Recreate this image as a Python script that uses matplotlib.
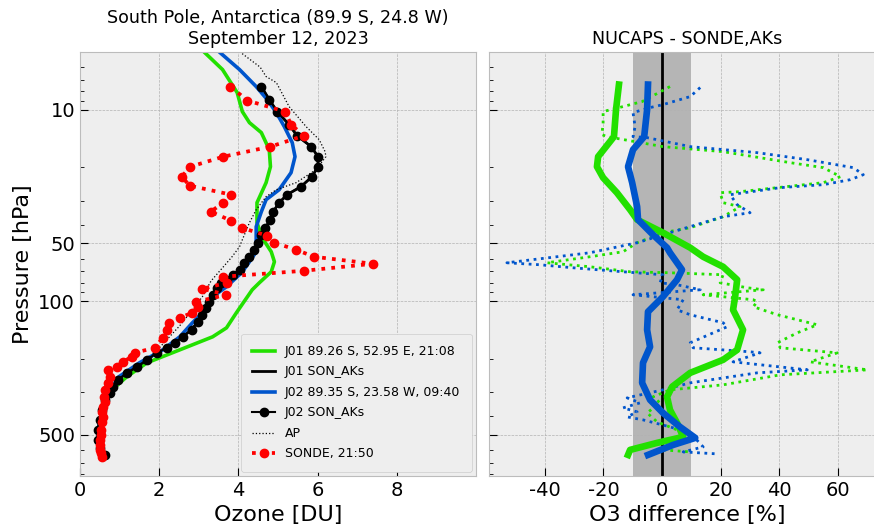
import numpy as np
import matplotlib
matplotlib.use("Agg")
import matplotlib.pyplot as plt
from matplotlib.ticker import FixedLocator, LogLocator, NullFormatter, ScalarFormatter

plt.style.use("bmh")
plt.rcParams["font.family"] = ["DejaVu Sans"]
plt.rcParams["axes.unicode_minus"] = False

# ---- left panel: ozone profiles [DU] vs pressure [hPa]
j01_p = [4.9, 6.18, 8.15, 10.24, 11.70, 13.19, 16.19, 19.86, 24.07, 30.63, 38.96, 46.7,
         55.26, 62.33, 70.31, 80.23, 87.28, 115.1, 138.0, 153.7, 179.8, 210.2, 248.7,
         280, 320, 380, 450, 530, 600]
j01_du = [3.09, 3.60, 3.97, 4.10, 4.28, 4.58, 4.78, 4.81, 4.70, 4.47, 4.47, 4.60,
          4.83, 4.91, 4.83, 4.53, 4.35, 3.95, 3.70, 3.35, 2.52, 1.69, 1.18,
          0.90, 0.70, 0.56, 0.48, 0.46, 0.52]

j02_p = [4.9, 6.18, 7.58, 8.87, 10.37, 12.27, 14.87, 17.61, 21.35, 26.19, 29.54, 34.14,
         40.89, 49.58, 55.26, 62.33, 71.16, 84.18, 94.95, 115.1, 129.8, 153.7, 179.8,
         210.2, 248.7, 290, 350, 420, 500, 600]
j02_du = [3.47, 4.03, 4.45, 4.73, 4.96, 5.16, 5.36, 5.43, 5.33, 5.03, 4.70, 4.58,
          4.45, 4.45, 4.45, 4.28, 4.08, 3.70, 3.35, 3.09, 2.84, 2.52, 2.09,
          1.50, 0.98, 0.78, 0.60, 0.50, 0.46, 0.52]

ak_p = [7.58, 8.87, 10.24, 11.98, 13.68, 15.61, 17.61, 19.86, 22.40, 25.26, 27.82, 30.63,
        34.14, 37.58, 41.39, 45.02, 49.58, 53.94, 58.69, 63.09, 68.63, 72.89, 77.39, 80.23,
        85.20, 92.70, 100.8, 108.4, 117.9, 128.3, 141.3, 153.7, 165.2, 175.4, 186.4, 202.7,
        220.6, 237.1, 257.9, 280.5, 301.6, 328.0, 370.1, 417.4, 470.8, 530.9, 584.7, 636.0]
ak_du = [4.58, 4.78, 4.98, 5.28, 5.48, 5.84, 6.01, 6.01, 5.86, 5.58, 5.23, 5.03,
         4.88, 4.81, 4.68, 4.58, 4.50, 4.40, 4.28, 4.15, 4.03, 3.87, 3.72, 3.57,
         3.45, 3.35, 3.27, 3.19, 3.09, 2.97, 2.82, 2.59, 2.39, 2.19, 1.94, 1.69,
         1.43, 1.18, 0.96, 0.83, 0.75, 0.63, 0.55, 0.50, 0.45, 0.45, 0.50, 0.63]

ap_p = [4.98, 6.0, 6.72, 7.23, 9.64, 12.27, 14.35, 16.58, 17.61, 20.59, 24.07, 26.19,
        28.50, 33.33, 38.96, 47.82, 52.03, 58.69, 67.0, 78.5, 94.95, 111.1, 134.5, 159.4,
        200, 240, 280, 350, 450, 550, 630]
ap_du = [4.03, 4.55, 4.70, 4.96, 5.28, 5.71, 6.04, 6.19, 6.21, 5.96, 5.46, 4.96,
         4.70, 4.45, 4.28, 4.10, 4.03, 3.84, 3.60, 3.31, 3.09, 2.84, 2.52, 2.19,
         1.75, 1.20, 0.85, 0.62, 0.48, 0.48, 0.60]

sonde_p = [7.58, 8.97, 10.24, 11.98, 13.68, 15.61, 17.61, 19.86, 22.40, 24.96, 27.82, 30.63,
           34.14, 38.04, 41.39, 45.56, 49.58, 53.94, 58.69, 63.85, 69.46, 74.65, 80.23, 86.23,
           92.70, 100.8, 107.1, 115.1, 122.2, 129.8, 141.3, 155.5, 175.4, 186.4, 195.6, 207.7,
           220.6, 228.7, 248.7, 267.4, 290.9, 316.4, 335, 356.9, 380, 402.6, 430, 470.8,
           500, 530.9, 565, 598.9, 625, 651.5]
sonde_du = [3.80, 4.23, 5.18, 5.33, 5.66, 4.81, 3.62, 2.79, 2.57, 2.77, 3.82, 3.62,
            3.30, 3.82, 4.08, 4.73, 4.91, 5.46, 5.91, 7.40, 5.66, 3.60, 3.72, 3.09,
            3.70, 2.94, 2.97, 2.84, 2.52, 2.26, 2.19, 2.09, 1.89, 1.38, 1.31, 1.08,
            0.93, 0.70, 0.75, 0.70, 0.63, 0.60, 0.62, 0.58, 0.56, 0.58, 0.55, 0.53,
            0.52, 0.50, 0.50, 0.50, 0.52, 0.55]

# ---- right panel: NUCAPS - SONDE difference [%]
d01_p = [7.40, 10, 13.84, 17.61, 19.86, 22.68, 27.16, 33.33, 37.58, 43.95, 52.66, 58.69,
         66.20, 77.39, 94.95, 111.1, 141.3, 179.8, 202.7, 237.1, 280.5, 316.4, 370.1,
         432.8, 512.2, 550.5, 598.9, 636.0]
d01 = [-14.7, -15.7, -16.4, -21.8, -22.2, -20.1, -15.4, -10.9, -8.5, 0.3, 9.6, 14.0,
       20.8, 25.6, 24.9, 24.2, 27.6, 25.6, 20.8, 9.6, 3.4, 1.7, 2.7,
       5.1, 7.2, -1.7, -10.9, -11.6]

d02_p = [7.40, 10, 13.84, 16.19, 19.86, 24.07, 32.15, 37.58, 45.02, 52.66, 55.93, 68.63,
         77.39, 94.95, 113.7, 141.3, 173.4, 210.2, 267.4, 328.0, 383.7, 454.1, 518.4,
         564.0, 636.0]
d02 = [-4.8, -5.1, -6.1, -9.9, -11.6, -10.2, -8.5, -8.2, -3.1, 1.7, 2.7, 6.8,
       5.1, 0.3, -4.8, -5.1, -4.1, -6.5, -6.8, -4.1, 0.3, 6.1, 11.3,
       3.8, -4.8]

d01_ak_p = [7.58, 9.08, 9.64, 10.24, 11.70, 13.51, 13.84, 15.61, 16.58, 18.93, 20.10, 22.40,
            24.07, 25.56, 26.83, 27.16, 30.63, 32.15, 36.26, 41.39, 43.95, 49.58, 55.26,
            58.69, 63.09, 66.20, 70.31, 71.16, 72.89, 80.23, 85.20, 87.28, 92.70, 98.44,
            100.8, 107.1, 117.9, 133.0, 146.5, 165.2, 175.4, 186.4, 207.7, 228.7, 242.8,
            273.9, 290.9, 316.4, 340.1, 383.7, 427.6, 470.8, 512.2, 598.9, 613.5]
d01_ak = [2.7, -6.8, -13.3, -20.1, -20.1, -20.5, -18.8, 0.3, 20.8, 43.7, 55.0, 60.8,
          55.0, 39.3, 26.6, 19.8, 20.8, 26.6, 20.8, 9.6, 0.3, -8.5, -13.3,
          -24.6, -39.2, -24.6, -10.9, 2.7, 20.8, 19.8, 29.0, 34.5, 14.0, 31.1,
          32.4, 31.1, 39.3, 52.9, 46.1, 39.3, 40.3, 59.7, 50.5, 70.0, 40.3,
          20.8, 2.7, -3.1, -0.7, -5.1, -1.7, 5.1, 7.2, 0.3, 9.6]

d02_ak_p = [7.67, 8.55, 9.42, 9.76, 10.37, 12.27, 13.84, 14.01, 15.61, 16.78, 18.26, 20.10,
            21.87, 23.22, 24.66, 25.56, 27.82, 31.38, 34.56, 36.26, 43.43, 49.58, 55.93,
            63.09, 64.63, 67.00, 70.31, 72.89, 80.23, 82.18, 87.28, 92.70, 98.44, 111.1,
            117.9, 129.8, 136.2, 165.2, 175.4, 184.1, 186.4, 207.7, 228.7, 237.1, 267.4,
            290.9, 320.2, 340.1, 361.3, 379.1, 402.6, 417.4, 454.1, 488.1, 577.7, 613.5, 628.4]
d02_ak = [13.0, 9.6, 0.3, -4.1, -9.9, -9.2, -9.9, -5.1, 9.6, 32.4, 49.5, 65.2,
          68.6, 64.2, 55.0, 40.3, 23.2, 25.6, 30.0, 20.8, 3.8, -8.5, -24.6,
          -52.9, -41.6, -30.4, -13.3, 0.3, -0.7, 5.1, 13.0, -9.9, 7.2, 5.1,
          9.6, 20.8, 22.2, 9.6, 10.6, 30.0, 33.4, 24.2, 49.5, 32.4, 9.6,
          0.3, -11.9, -7.5, -13.3, -8.5, -11.9, -6.5, 2.7, 9.6, 14.0, 7.2, 18.8]

green = "#22e000"
blue = "#0055cc"

fig = plt.figure(figsize=(8.74, 5.25), dpi=100)
ax1 = fig.add_axes([0.0915, 0.0933, 0.4531, 0.8077])
ax2 = fig.add_axes([0.5595, 0.0933, 0.4531, 0.8077], sharey=ax1)

ax1.plot(j01_du, j01_p, color=green, lw=2.6, label="J01 89.26 S, 52.95 E, 21:08")
ax1.plot(ak_du, ak_p, color="black", lw=2, label="J01 SON_AKs")
ax1.plot(j02_du, j02_p, color=blue, lw=2.6, label="J02 89.35 S, 23.58 W, 09:40")
ax1.plot(ak_du, ak_p, color="black", lw=1.5, marker="o", ms=6, label="J02 SON_AKs")
ax1.plot(ap_du, ap_p, color="black", lw=0.9, ls=":", label="AP")
ax1.plot(sonde_du, sonde_p, color="red", lw=2.7, ls=":", marker="o", ms=6,
         label="SONDE, 21:50")

ax1.set_yscale("log")
ax1.set_ylim(820, 5)
ax1.set_xlim(0, 10)
ax1.set_xticks([0, 2, 4, 6, 8])
ax1.yaxis.set_major_locator(FixedLocator([10, 50, 100, 500]))
ax1.yaxis.set_major_formatter(ScalarFormatter())
ax1.yaxis.set_minor_locator(LogLocator(base=10, subs=np.arange(2, 10)))
ax1.yaxis.set_minor_formatter(NullFormatter())
ax1.set_xlabel("Ozone [DU]", fontsize=16)
ax1.set_ylabel("Pressure [hPa]", fontsize=16)
ax1.set_title("South Pole, Antarctica (89.9 S, 24.8 W)\nSeptember 12, 2023", fontsize=12.6)
ax1.legend(loc="lower right", fontsize=9, framealpha=1, borderpad=0.9,
           handlelength=1.8, labelspacing=0.6, borderaxespad=0.35)

ax2.axvspan(-10, 10, color="#b5b5b5", lw=0, zorder=1)
ax2.axvline(0, color="black", lw=2, zorder=2)
ax2.plot(d01_ak, d01_ak_p, color=green, lw=2, ls=":", zorder=3)
ax2.plot(d02_ak, d02_ak_p, color=blue, lw=2, ls=":", zorder=3)
ax2.plot(d01, d01_p, color=green, lw=4.8, zorder=4)
ax2.plot(d02, d02_p, color=blue, lw=4.8, zorder=4)
ax2.set_xlim(-59, 76)
ax2.set_xticks([-40, -20, 0, 20, 40, 60])
ax2.set_xlabel("O3 difference [%]", fontsize=16)
ax2.set_title("NUCAPS - SONDE,AKs", fontsize=12.6)
ax2.tick_params(axis="y", which="both", labelleft=False)

for ax in (ax1, ax2):
    ax.tick_params(which="both", direction="in", colors="black", labelsize=14)
    ax.tick_params(which="major", length=6)
    ax.tick_params(which="minor", length=3)
    ax.grid(True, which="major")
    ax.grid(False, which="minor")

fig.savefig("out.png", dpi=100)
